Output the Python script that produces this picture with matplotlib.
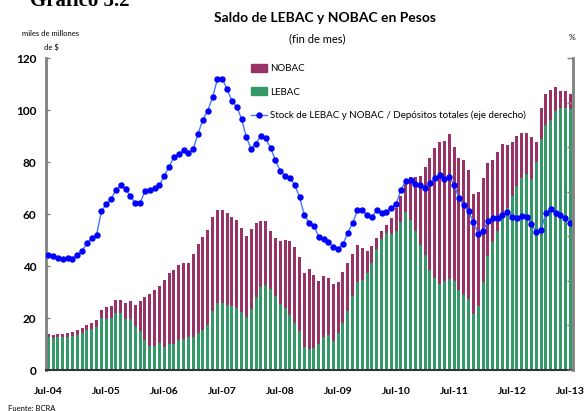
import numpy as np
import matplotlib
matplotlib.use("Agg")
import matplotlib.pyplot as plt
from matplotlib.patches import Patch
from matplotlib.lines import Line2D

plt.rcParams['font.family'] = ['Lato', 'DejaVu Sans']

# monthly data, Jul-04 .. Jul-13 (miles de millones de $)
lebac = [12.7, 12.2, 12.8, 12.8, 12.8, 13.2, 13.5, 14.2, 15.3, 15.8, 16.5, 19.9,
         19.5, 19.9, 21.8, 21.8, 19.5, 19.5, 16.8, 14.9, 11.4, 9.2, 9.2, 10.3,
         8.8, 10.0, 10.0, 11.4, 11.8, 12.8, 12.6, 14.1, 15.3, 17.2, 22.6, 25.6,
         25.9, 25.1, 24.6, 23.8, 22.4, 20.4, 23.3, 28.1, 31.8, 32.8, 31.3, 28.3,
         25.3, 23.7, 21.3, 18.2, 14.9, 9.0, 8.2, 8.3, 9.9, 12.7, 13.5, 11.0,
         14.1, 17.9, 22.7, 28.3, 33.7, 34.5, 37.2, 41.0, 46.4, 50.3, 52.6, 52.2,
         53.6, 56.8, 60.6, 57.6, 53.3, 47.9, 44.1, 38.3, 35.3, 32.9, 34.2, 35.1,
         34.4, 30.8, 29.0, 27.4, 21.7, 24.7, 34.0, 44.0, 49.4, 53.6, 58.6, 62.4,
         67.1, 70.9, 74.0, 75.5, 73.6, 80.0, 89.0, 94.4, 96.3, 99.7, 100.9, 100.9,
         100.5]
nobac = [1.0, 1.3, 0.9, 0.9, 1.3, 1.3, 1.8, 2.0, 2.0, 2.3, 2.6, 3.0,
         4.7, 4.6, 5.0, 5.0, 6.1, 6.9, 8.1, 11.5, 16.5, 19.9, 21.6, 21.9,
         25.8, 27.2, 28.5, 28.9, 29.5, 28.2, 31.9, 34.2, 36.0, 36.5, 36.1, 35.8,
         35.5, 35.2, 34.2, 33.8, 32.2, 31.0, 30.8, 28.4, 25.4, 24.4, 22.2, 22.3,
         24.4, 26.2, 28.4, 29.0, 28.7, 28.2, 30.8, 28.1, 24.3, 23.3, 22.0, 21.9,
         19.6, 19.7, 18.3, 16.2, 14.2, 12.3, 8.4, 6.6, 4.2, 3.0, 3.0, 6.1,
         8.6, 10.1, 12.1, 16.5, 20.8, 26.6, 33.8, 43.2, 50.1, 54.7, 53.7, 55.8,
         51.5, 50.9, 51.9, 49.7, 46.1, 43.9, 40.0, 35.7, 31.5, 30.4, 28.5, 24.3,
         20.7, 19.2, 17.3, 15.8, 16.1, 7.8, 11.9, 11.9, 11.5, 9.3, 6.5, 6.5,
         5.8]
# stock / depositos totales (%), eje derecho
ratio = [12.9, 12.8, 12.6, 12.4, 12.6, 12.5, 12.9, 13.4, 14.2, 14.8, 15.2, 17.8,
         18.6, 19.2, 20.2, 20.7, 20.3, 19.5, 18.7, 18.7, 20.1, 20.2, 20.4, 20.7,
         21.8, 22.8, 23.9, 24.2, 24.7, 24.3, 24.8, 26.5, 28.1, 29.1, 30.6, 32.6,
         32.7, 31.5, 30.2, 29.5, 28.2, 26.1, 24.8, 25.4, 26.3, 26.0, 24.9, 23.6,
         22.3, 21.8, 21.5, 20.8, 19.4, 17.4, 16.5, 16.2, 14.9, 14.7, 14.4, 13.8,
         13.6, 14.1, 15.4, 16.5, 17.9, 17.9, 17.4, 17.2, 17.9, 17.6, 17.7, 18.2,
         18.6, 20.2, 21.2, 21.3, 20.9, 20.7, 20.4, 21.0, 21.5, 21.9, 21.4, 21.6,
         20.8, 19.3, 18.5, 17.8, 16.6, 15.3, 15.6, 16.7, 17.0, 17.0, 17.4, 17.7,
         17.2, 17.1, 17.3, 17.2, 16.4, 15.5, 15.7, 17.6, 18.1, 17.6, 17.4, 17.1,
         16.5]
xlabels = ["Jul-04", "Jul-05", "Jul-06", "Jul-07", "Jul-08",
           "Jul-09", "Jul-10", "Jul-11", "Jul-12", "Jul-13"]

purple = '#993366'
green = '#339966'

fig = plt.figure(figsize=(5.84, 4.11), dpi=100)
ax = fig.add_axes([46/584, 41/411, 527/584, 312/411])
x = np.arange(len(lebac))

ax.bar(x, lebac, width=0.62, color=green, linewidth=0)
ax.bar(x, nobac, width=0.62, bottom=lebac, color=purple, linewidth=0)

ax.set_xlim(-0.48, 108.62)
ax.set_ylim(0, 120)
ax.set_yticks(range(0, 121, 20))
ax.set_xticks(range(0, 109, 12))
ax.set_xticklabels(xlabels)
ax.tick_params(axis='y', direction='in', length=3, width=1, color='#808080',
               labelsize=8.5, pad=7)
ax.tick_params(axis='x', direction='in', length=2, width=1, color='#808080',
               labelsize=7.5, pad=12)
for lab in ax.get_xticklabels() + ax.get_yticklabels():
    lab.set_fontweight('bold')

ax.spines['top'].set_visible(False)
ax.spines['left'].set_color('#808080')
ax.spines['left'].set_linewidth(2)
ax.spines['bottom'].set_color('#333333')
ax.spines['bottom'].set_linewidth(1.5)
ax.spines['right'].set_visible(False)

ax2 = ax.twinx()
ax2.plot(x, ratio, color='#4477ff', linewidth=1, marker='o', markersize=3.6,
         markerfacecolor='#0000ff', markeredgecolor='#0000ff')
ax2.set_ylim(0, 35)
ax2.set_yticks(range(0, 36, 5))
ax2.tick_params(axis='y', direction='in', length=4, width=1, color='#808080',
                labelright=False)
ax2.spines['top'].set_visible(False)
ax2.spines['left'].set_visible(False)
ax2.spines['bottom'].set_visible(False)
ax2.spines['right'].set_color('#808080')
ax2.spines['right'].set_linewidth(2)

handles = [Patch(color=purple), Patch(color=green),
           Line2D([], [], color='#4477ff', linewidth=1, marker='o', markersize=3.6,
                  markerfacecolor='#0000ff', markeredgecolor='#0000ff')]
labels = ["NOBAC", "LEBAC", "Stock de LEBAC y NOBAC / Depósitos totales (eje derecho)"]
fig.legend(handles, labels, loc='upper left', bbox_to_anchor=(251/584, 1 - 64/411),
           frameon=False, fontsize=7, labelspacing=1.45, handlelength=1.6,
           handleheight=0.85, handletextpad=0.35, borderpad=0, borderaxespad=0)

fig.text(325/584, 1 - 18/411, "Saldo de LEBAC y NOBAC en Pesos", ha='center',
         va='center', fontsize=10, fontweight='bold')
fig.text(317/584, 1 - 39/411, "(fin de mes)", ha='center', va='center', fontsize=8)
fig.text(30/584, 1 - 6/411, "Gráfico 3.2", ha='left', va='baseline',
         fontsize=15, fontweight='bold', family='Liberation Serif')
fig.text(50/584, 1 - 34/411, "miles de millones", ha='center', va='center', fontsize=5.5)
fig.text(51/584, 1 - 47/411, "de $", ha='center', va='center', fontsize=5.5)
fig.text(572/584, 1 - 37/411, "%", ha='center', va='center', fontsize=6)
fig.text(8/584, 1 - 408/411, "Fuente: BCRA", ha='left', va='center', fontsize=5.5)

fig.savefig("out.png", dpi=100)
